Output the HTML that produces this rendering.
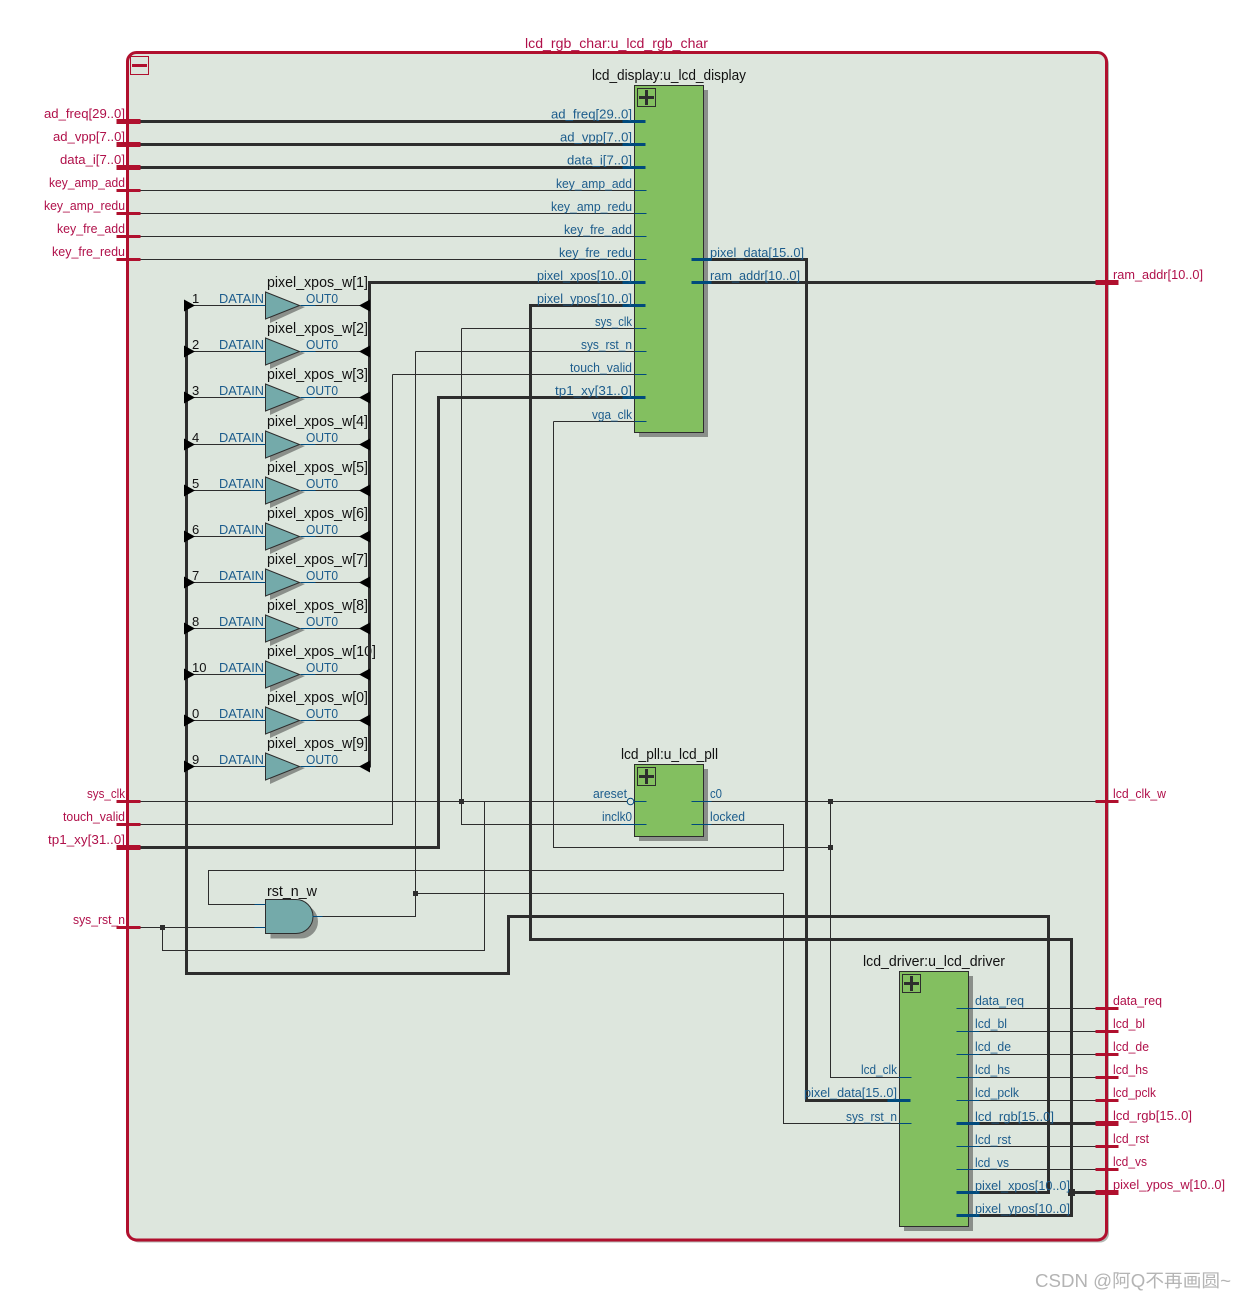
<!DOCTYPE html>
<html><head><meta charset="utf-8"><style>
html,body{margin:0;padding:0;background:#fff}
svg{display:block}
text{font-family:"Liberation Sans","Noto Sans CJK SC",sans-serif;font-size:13px}
.r{fill:#b0104a}
.b{fill:#1c5c8c}
.k{fill:#111;font-size:14.5px}
.e{text-anchor:end}
.w{fill:#2d2d2d;stroke:none}
.t,.h,.pt,.ph,.st,.sh{fill:none;transform:translate(.5px,.5px)}
.t{stroke:#2d2d2d;stroke-width:1}
.h{stroke:#2d2d2d;stroke-width:3}
.pt{stroke:#004a7c;stroke-width:1}
.ph{stroke:#004a7c;stroke-width:3}
.st{stroke:#b0102e;stroke-width:3}
.sh{stroke:#b0102e;stroke-width:5}
</style></head><body>
<svg xmlns="http://www.w3.org/2000/svg" width="1245" height="1300" viewBox="0 0 1245 1300">
<defs>
<g id="mux">
<polygon points="5,-9 40,2 5,18" fill="#8a8f8a"/>
<polygon points="0.5,-13 34.5,0.5 0.5,14" fill="#74aaaa" stroke="#2d2d2d" stroke-width="1"/>
<path d="M-15 0H0M35 0H50" class="pt"/>
<polygon points="-70,0.5 -81,-5.5 -81,6.5" fill="#000"/>
<polygon points="94,0.5 105,-5.500 105,6.5" fill="#000"/>
</g>
</defs>
<rect x="130" y="55" width="979" height="1187.500" rx="9" fill="#b4b8b4"/>
<rect x="127.500" y="52.500" width="979" height="1187.500" rx="9" fill="#dde6dd" stroke="#b0102e" stroke-width="3"/>
<rect x="130.500" y="56.500" width="18" height="18" fill="none" stroke="#b0102e" stroke-width="1"/>
<path d="M132 65.500H147" stroke="#b0102e" stroke-width="3"/>

<text x="525" y="48" class="r" style="font-size:14px" textLength="183" lengthAdjust="spacingAndGlyphs">lcd_rgb_char:u_lcd_rgb_char</text>
<text x="592" y="80" class="k" textLength="154" lengthAdjust="spacingAndGlyphs">lcd_display:u_lcd_display</text>
<text x="621" y="759" class="k" textLength="97" lengthAdjust="spacingAndGlyphs">lcd_pll:u_lcd_pll</text>
<text x="863" y="966" class="k" textLength="142" lengthAdjust="spacingAndGlyphs">lcd_driver:u_lcd_driver</text>
<text x="267" y="896" class="k" textLength="50" lengthAdjust="spacingAndGlyphs">rst_n_w</text>

<!-- left port labels -->
<text class="r" x="44" y="118" textLength="81" lengthAdjust="spacingAndGlyphs">ad_freq[29..0]</text>
<text class="r" x="53" y="141" textLength="72" lengthAdjust="spacingAndGlyphs">ad_vpp[7..0]</text>
<text class="r" x="60" y="164" textLength="65" lengthAdjust="spacingAndGlyphs">data_i[7..0]</text>
<text class="r" x="49" y="187" textLength="76" lengthAdjust="spacingAndGlyphs">key_amp_add</text>
<text class="r" x="44" y="210" textLength="81" lengthAdjust="spacingAndGlyphs">key_amp_redu</text>
<text class="r" x="57" y="233" textLength="68" lengthAdjust="spacingAndGlyphs">key_fre_add</text>
<text class="r" x="52" y="256" textLength="73" lengthAdjust="spacingAndGlyphs">key_fre_redu</text>
<text class="r" x="87" y="798" textLength="38" lengthAdjust="spacingAndGlyphs">sys_clk</text>
<text class="r" x="63" y="821" textLength="62" lengthAdjust="spacingAndGlyphs">touch_valid</text>
<text class="r" x="48" y="844" textLength="77" lengthAdjust="spacingAndGlyphs">tp1_xy[31..0]</text>
<text class="r" x="73" y="924" textLength="52" lengthAdjust="spacingAndGlyphs">sys_rst_n</text>
<!-- right port labels -->
<text class="r" x="1113" y="279" textLength="90" lengthAdjust="spacingAndGlyphs">ram_addr[10..0]</text>
<text class="r" x="1113" y="798" textLength="53" lengthAdjust="spacingAndGlyphs">lcd_clk_w</text>
<text class="r" x="1113" y="1005" textLength="49" lengthAdjust="spacingAndGlyphs">data_req</text>
<text class="r" x="1113" y="1028" textLength="32" lengthAdjust="spacingAndGlyphs">lcd_bl</text>
<text class="r" x="1113" y="1051" textLength="36" lengthAdjust="spacingAndGlyphs">lcd_de</text>
<text class="r" x="1113" y="1074" textLength="35" lengthAdjust="spacingAndGlyphs">lcd_hs</text>
<text class="r" x="1113" y="1097" textLength="43" lengthAdjust="spacingAndGlyphs">lcd_pclk</text>
<text class="r" x="1113" y="1120" textLength="79" lengthAdjust="spacingAndGlyphs">lcd_rgb[15..0]</text>
<text class="r" x="1113" y="1143" textLength="36" lengthAdjust="spacingAndGlyphs">lcd_rst</text>
<text class="r" x="1113" y="1166" textLength="34" lengthAdjust="spacingAndGlyphs">lcd_vs</text>
<text class="r" x="1113" y="1189" textLength="112" lengthAdjust="spacingAndGlyphs">pixel_ypos_w[10..0]</text>

<!-- thin wires -->
<path class="t" d="M140 190H634M140 213H634M140 236H634M140 259H634"/>
<path class="t" d="M461 328H634M415 351H634M392 374H634M553 421H634"/>
<path class="t" d="M553 421V847H830M140 801H627M461 328V824H634M484 801V950H162V927M140 927H265"/>
<path class="t" d="M140 824H392V374M415 351V916H313M415 893H783V1123H899M691 824H783V870H208V904H265"/>
<path class="t" d="M691 801H1095M830 801V1077H899"/>
<path class="t" d="M979 1008H1095M979 1031H1095M979 1054H1095M979 1077H1095M979 1100H1095M979 1146H1095M979 1169H1095"/>

<!-- mux labels -->
<text class="k" x="267" y="287" textLength="101" lengthAdjust="spacingAndGlyphs">pixel_xpos_w[1]</text>
<text class="k" x="267" y="333" textLength="101" lengthAdjust="spacingAndGlyphs">pixel_xpos_w[2]</text>
<text class="k" x="267" y="379" textLength="101" lengthAdjust="spacingAndGlyphs">pixel_xpos_w[3]</text>
<text class="k" x="267" y="426" textLength="101" lengthAdjust="spacingAndGlyphs">pixel_xpos_w[4]</text>
<text class="k" x="267" y="472" textLength="101" lengthAdjust="spacingAndGlyphs">pixel_xpos_w[5]</text>
<text class="k" x="267" y="518" textLength="101" lengthAdjust="spacingAndGlyphs">pixel_xpos_w[6]</text>
<text class="k" x="267" y="564" textLength="101" lengthAdjust="spacingAndGlyphs">pixel_xpos_w[7]</text>
<text class="k" x="267" y="610" textLength="101" lengthAdjust="spacingAndGlyphs">pixel_xpos_w[8]</text>
<text class="k" x="267" y="656" textLength="109" lengthAdjust="spacingAndGlyphs">pixel_xpos_w[10]</text>
<text class="k" x="267" y="702" textLength="101" lengthAdjust="spacingAndGlyphs">pixel_xpos_w[0]</text>
<text class="k" x="267" y="748" textLength="101" lengthAdjust="spacingAndGlyphs">pixel_xpos_w[9]</text>

<!-- mux stub wires -->
<path class="t" d="M186 305H265M300 305H369M186 351H265M300 351H369M186 397H265M300 397H369M186 444H265M300 444H369M186 490H265M300 490H369M186 536H265M300 536H369M186 582H265M300 582H369M186 628H265M300 628H369M186 674H265M300 674H369M186 720H265M300 720H369M186 766H265M300 766H369"/>

<!-- thick wires -->
<path class="h" d="M140 121H622M140 144H622M140 167H622"/>
<path class="h" d="M369 767V282H622"/>
<path class="h" d="M622 305H530V939H1071V1215H979"/>
<path class="h" d="M140 847H438V397H622"/>
<path class="h" d="M186 305V973H508V916H1048V1192H979"/>
<path class="h" d="M711 259H806V1100H887"/>
<path class="h" d="M711 282H1095"/>
<path class="h" d="M979 1123H1095M1071 1192H1095"/>

<!-- junctions -->
<g class="w">
<rect x="459" y="799" width="5" height="5"/>
<rect x="828" y="799" width="5" height="5"/>
<rect x="828" y="845" width="5" height="5"/>
<rect x="413" y="891" width="5" height="5"/>
<rect x="160" y="925" width="5" height="5"/>
<rect x="1068" y="1189" width="7" height="7"/>
</g>

<!-- muxes -->
<use href="#mux" x="265" y="305"/>
<use href="#mux" x="265" y="351"/>
<use href="#mux" x="265" y="397"/>
<use href="#mux" x="265" y="444"/>
<use href="#mux" x="265" y="490"/>
<use href="#mux" x="265" y="536"/>
<use href="#mux" x="265" y="582"/>
<use href="#mux" x="265" y="628"/>
<use href="#mux" x="265" y="674"/>
<use href="#mux" x="265" y="720"/>
<use href="#mux" x="265" y="766"/>

<text class="b" x="219" y="303" textLength="45" lengthAdjust="spacingAndGlyphs">DATAIN</text><text class="b" x="306" y="303" textLength="32" lengthAdjust="spacingAndGlyphs">OUT0</text>
<text class="b" x="219" y="349" textLength="45" lengthAdjust="spacingAndGlyphs">DATAIN</text><text class="b" x="306" y="349" textLength="32" lengthAdjust="spacingAndGlyphs">OUT0</text>
<text class="b" x="219" y="395" textLength="45" lengthAdjust="spacingAndGlyphs">DATAIN</text><text class="b" x="306" y="395" textLength="32" lengthAdjust="spacingAndGlyphs">OUT0</text>
<text class="b" x="219" y="442" textLength="45" lengthAdjust="spacingAndGlyphs">DATAIN</text><text class="b" x="306" y="442" textLength="32" lengthAdjust="spacingAndGlyphs">OUT0</text>
<text class="b" x="219" y="488" textLength="45" lengthAdjust="spacingAndGlyphs">DATAIN</text><text class="b" x="306" y="488" textLength="32" lengthAdjust="spacingAndGlyphs">OUT0</text>
<text class="b" x="219" y="534" textLength="45" lengthAdjust="spacingAndGlyphs">DATAIN</text><text class="b" x="306" y="534" textLength="32" lengthAdjust="spacingAndGlyphs">OUT0</text>
<text class="b" x="219" y="580" textLength="45" lengthAdjust="spacingAndGlyphs">DATAIN</text><text class="b" x="306" y="580" textLength="32" lengthAdjust="spacingAndGlyphs">OUT0</text>
<text class="b" x="219" y="626" textLength="45" lengthAdjust="spacingAndGlyphs">DATAIN</text><text class="b" x="306" y="626" textLength="32" lengthAdjust="spacingAndGlyphs">OUT0</text>
<text class="b" x="219" y="672" textLength="45" lengthAdjust="spacingAndGlyphs">DATAIN</text><text class="b" x="306" y="672" textLength="32" lengthAdjust="spacingAndGlyphs">OUT0</text>
<text class="b" x="219" y="718" textLength="45" lengthAdjust="spacingAndGlyphs">DATAIN</text><text class="b" x="306" y="718" textLength="32" lengthAdjust="spacingAndGlyphs">OUT0</text>
<text class="b" x="219" y="764" textLength="45" lengthAdjust="spacingAndGlyphs">DATAIN</text><text class="b" x="306" y="764" textLength="32" lengthAdjust="spacingAndGlyphs">OUT0</text>
<g fill="#111">
<text x="192" y="303">1</text><text x="192" y="349">2</text><text x="192" y="395">3</text><text x="192" y="442">4</text><text x="192" y="488">5</text><text x="192" y="534">6</text><text x="192" y="580">7</text><text x="192" y="626">8</text><text x="192" y="672">10</text><text x="192" y="718">0</text><text x="192" y="764">9</text>
</g>

<!-- AND gate -->
<path d="M270.500 904.500H301A17 17 0 0 1 301 938.500H270.500Z" fill="#8a8f8a"/>
<path d="M265.500 899.500H296A17 17 0 0 1 296 933.500H265.500Z" fill="#74aaaa" stroke="#2d2d2d" stroke-width="1"/>
<path class="pt" d="M254 904H265M254 927H265M312 916H322"/>

<!-- display block -->
<rect x="639" y="90" width="69" height="347" fill="#8a8f8a"/>
<rect x="634.500" y="85.500" width="69" height="347" fill="#83bf60" stroke="#2d2d2d" stroke-width="1"/>
<rect x="637.500" y="88.500" width="18" height="18" fill="none" stroke="#2d2d2d" stroke-width="1"/>
<path d="M639 97.500H654M646.500 90V105" stroke="#2d2d2d" stroke-width="3"/>
<!-- pll block -->
<rect x="639" y="769" width="69" height="72" fill="#8a8f8a"/>
<rect x="634.500" y="764.500" width="69" height="72" fill="#83bf60" stroke="#2d2d2d" stroke-width="1"/>
<rect x="637.500" y="767.500" width="18" height="18" fill="none" stroke="#2d2d2d" stroke-width="1"/>
<path d="M639 776.500H654M646.500 769V784" stroke="#2d2d2d" stroke-width="3"/>
<!-- driver block -->
<rect x="904" y="976" width="69" height="255" fill="#8a8f8a"/>
<rect x="899.500" y="971.500" width="69" height="255" fill="#83bf60" stroke="#2d2d2d" stroke-width="1"/>
<rect x="902.500" y="974.500" width="18" height="18" fill="none" stroke="#2d2d2d" stroke-width="1"/>
<path d="M904 983.500H919M911.500 976V991" stroke="#2d2d2d" stroke-width="3"/>

<!-- pins -->
<path class="ph" d="M622 121H645M622 144H645M622 167H645M622 282H645M622 305H645M622 397H645M691 259H711M691 282H711M887 1100H910M956 1123H979M956 1192H979M956 1215H979"/>
<path class="pt" d="M634 190H646M634 213H646M634 236H646M634 259H646M634 328H646M634 351H646M634 374H646M634 421H646M634 801H646M620 824H646M691 801H711M691 824H711M898 1077H911M898 1123H911M956 1008H979M956 1031H979M956 1054H979M956 1077H979M956 1100H979M956 1146H979M956 1169H979"/>
<circle cx="630.500" cy="801.500" r="3.300" fill="#dde6dd" stroke="#004a7c" stroke-width="1"/>

<!-- block port labels -->
<text class="b" x="551" y="118.500" textLength="81" lengthAdjust="spacingAndGlyphs">ad_freq[29..0]</text>
<text class="b" x="560" y="141.500" textLength="72" lengthAdjust="spacingAndGlyphs">ad_vpp[7..0]</text>
<text class="b" x="567" y="164.500" textLength="65" lengthAdjust="spacingAndGlyphs">data_i[7..0]</text>
<text class="b" x="556" y="188" textLength="76" lengthAdjust="spacingAndGlyphs">key_amp_add</text>
<text class="b" x="551" y="211" textLength="81" lengthAdjust="spacingAndGlyphs">key_amp_redu</text>
<text class="b" x="564" y="234" textLength="68" lengthAdjust="spacingAndGlyphs">key_fre_add</text>
<text class="b" x="559" y="257" textLength="73" lengthAdjust="spacingAndGlyphs">key_fre_redu</text>
<text class="b" x="537" y="280" textLength="95" lengthAdjust="spacingAndGlyphs">pixel_xpos[10..0]</text>
<text class="b" x="537" y="303" textLength="95" lengthAdjust="spacingAndGlyphs">pixel_ypos[10..0]</text>
<text class="b" x="595" y="326" textLength="37" lengthAdjust="spacingAndGlyphs">sys_clk</text>
<text class="b" x="581" y="349" textLength="51" lengthAdjust="spacingAndGlyphs">sys_rst_n</text>
<text class="b" x="570" y="372" textLength="62" lengthAdjust="spacingAndGlyphs">touch_valid</text>
<text class="b" x="555" y="395" textLength="77" lengthAdjust="spacingAndGlyphs">tp1_xy[31..0]</text>
<text class="b" x="592" y="419" textLength="40" lengthAdjust="spacingAndGlyphs">vga_clk</text>
<text class="b" x="710" y="257" textLength="94" lengthAdjust="spacingAndGlyphs">pixel_data[15..0]</text>
<text class="b" x="710" y="280" textLength="90" lengthAdjust="spacingAndGlyphs">ram_addr[10..0]</text>
<text class="b" x="593" y="798" textLength="34" lengthAdjust="spacingAndGlyphs">areset</text>
<text class="b" x="602" y="821" textLength="30" lengthAdjust="spacingAndGlyphs">inclk0</text>
<text class="b" x="710" y="798" textLength="12" lengthAdjust="spacingAndGlyphs">c0</text>
<text class="b" x="710" y="821" textLength="35" lengthAdjust="spacingAndGlyphs">locked</text>
<text class="b" x="861" y="1074" textLength="36" lengthAdjust="spacingAndGlyphs">lcd_clk</text>
<text class="b" x="804" y="1097" textLength="93" lengthAdjust="spacingAndGlyphs">pixel_data[15..0]</text>
<text class="b" x="846" y="1121" textLength="51" lengthAdjust="spacingAndGlyphs">sys_rst_n</text>
<text class="b" x="975" y="1005" textLength="49" lengthAdjust="spacingAndGlyphs">data_req</text>
<text class="b" x="975" y="1028" textLength="32" lengthAdjust="spacingAndGlyphs">lcd_bl</text>
<text class="b" x="975" y="1051" textLength="36" lengthAdjust="spacingAndGlyphs">lcd_de</text>
<text class="b" x="975" y="1074" textLength="35" lengthAdjust="spacingAndGlyphs">lcd_hs</text>
<text class="b" x="975" y="1097" textLength="44" lengthAdjust="spacingAndGlyphs">lcd_pclk</text>
<text class="b" x="975" y="1121" textLength="79" lengthAdjust="spacingAndGlyphs">lcd_rgb[15..0]</text>
<text class="b" x="975" y="1144" textLength="36" lengthAdjust="spacingAndGlyphs">lcd_rst</text>
<text class="b" x="975" y="1167" textLength="34" lengthAdjust="spacingAndGlyphs">lcd_vs</text>
<text class="b" x="975" y="1190" textLength="95" lengthAdjust="spacingAndGlyphs">pixel_xpos[10..0]</text>
<text class="b" x="975" y="1213" textLength="95" lengthAdjust="spacingAndGlyphs">pixel_ypos[10..0]</text>

<!-- red stubs -->
<path class="sh" d="M116 121H140M116 144H140M116 167H140M116 847H140M1095 282H1118M1095 1123H1118M1095 1192H1118"/>
<path class="st" d="M116 190H140M116 213H140M116 236H140M116 259H140M116 801H140M116 824H140M116 927H140M1095 801H1118M1095 1008H1118M1095 1031H1118M1095 1054H1118M1095 1077H1118M1095 1100H1118M1095 1146H1118M1095 1169H1118"/>

<text x="1035" y="1287" style="font-size:18px" fill="#b4b4b4" textLength="196" lengthAdjust="spacingAndGlyphs">CSDN @阿Q不再画圆~</text>
</svg>
</body></html>
